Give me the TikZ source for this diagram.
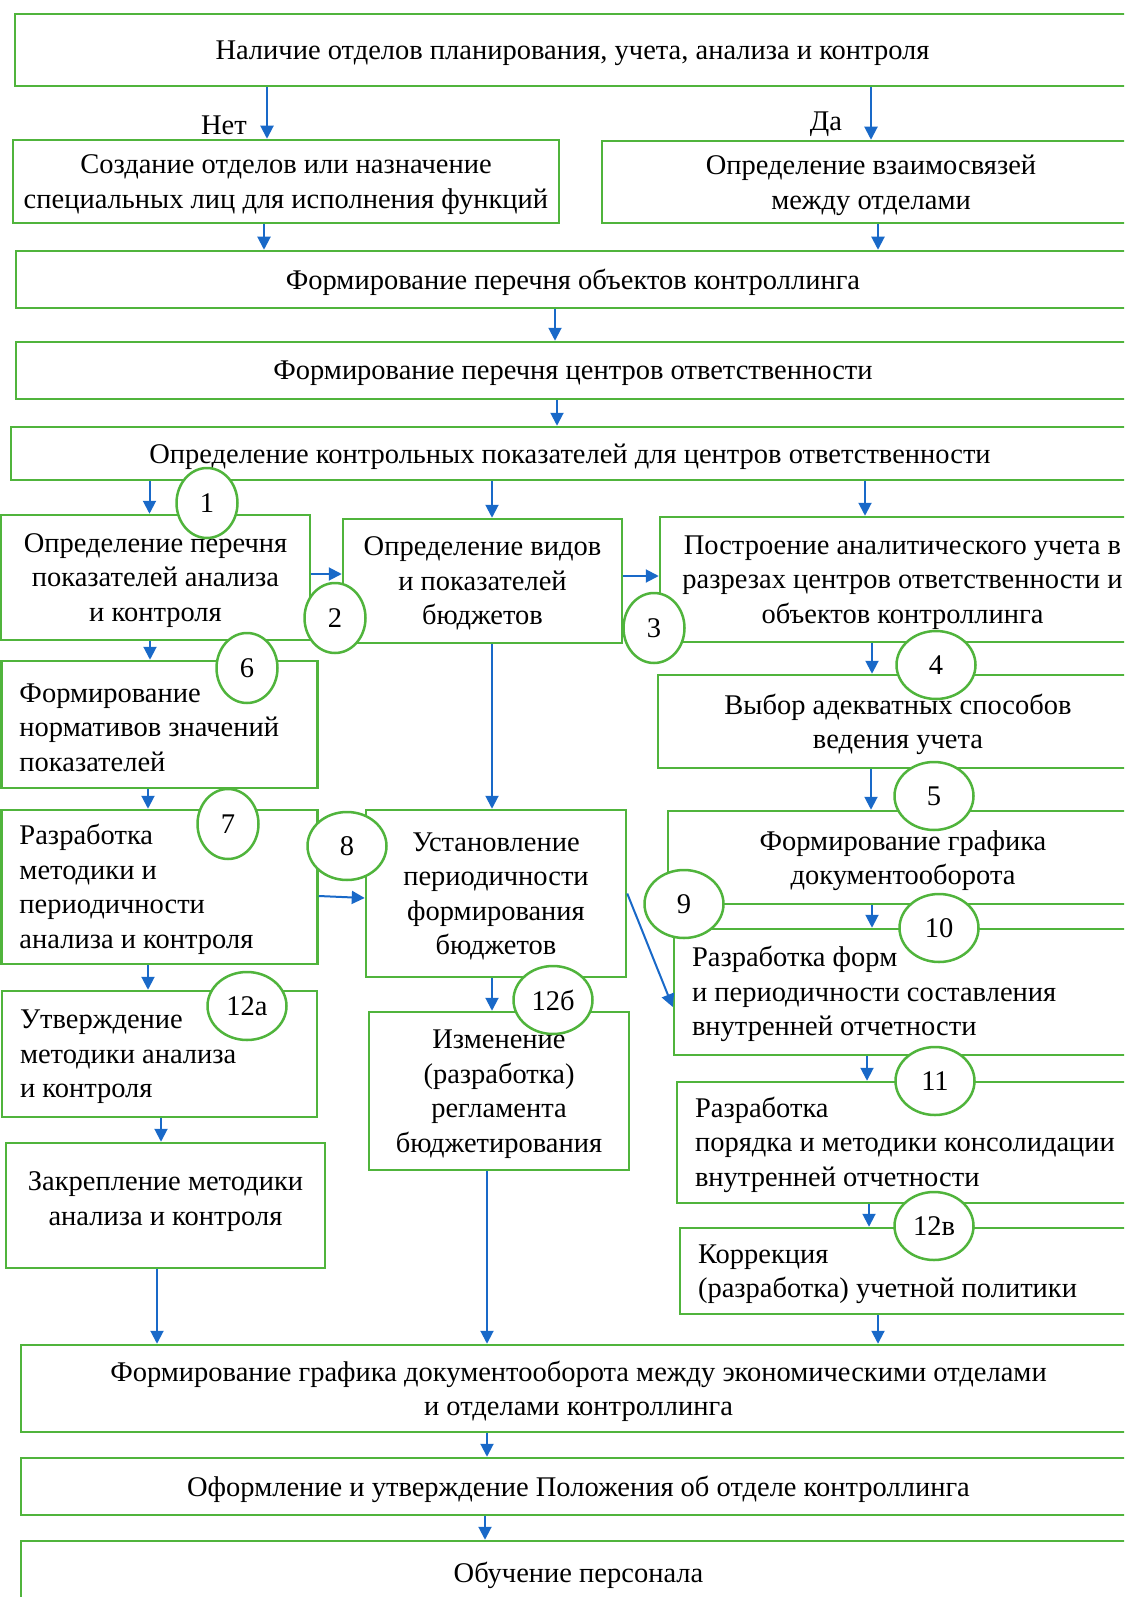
\documentclass[tikz,border=0pt]{standalone}
\usepackage{fontspec}
\setmainfont{Liberation Serif}
\usetikzlibrary{arrows.meta,shapes.geometric}
\definecolor{boxgreen}{RGB}{80,180,60}
\definecolor{arrblue}{RGB}{25,105,200}

\begin{document}
\begin{tikzpicture}[x=1pt, y=-1pt,
    every node/.style={font=\fontsize{28.5}{34.5}\selectfont},
    box/.style={draw=boxgreen, line width=2.5pt, inner xsep=2pt, inner ysep=2pt, align=center, text depth=-2pt},
    lbox/.style={box, align=flush left, inner xsep=18pt, text depth={}, text height=25pt},
    num/.style={ellipse, draw=boxgreen, line width=2.5pt, fill=white, minimum width=61pt, minimum height=70pt, inner sep=0pt},
    wnum/.style={num, minimum width=79pt, minimum height=68pt},
    arr/.style={draw=arrblue, line width=2pt, -{Triangle[length=13pt,width=13pt]}}]
    \useasboundingbox (0,0) rectangle (1124,1597);
    \clip (0,0) rectangle (1124,1597);

    \node[box, minimum width=1115pt, minimum height=72pt] (nalichie) at (572.5,50) {Наличие отделов планирования, учета, анализа и контроля};
    \node (net) at (224,125) {Нет};
    \node (da) at (826,124) {Да};
    \node[box, minimum width=546pt, minimum height=83pt] (sozd) at (286,181.5) {Создание отделов или назначение\\специальных лиц для исполнения функций};
    \node[box, minimum width=538pt, minimum height=82pt] (vzaim) at (871,182) {Определение взаимосвязей\\между отделами};
    \node[box, minimum width=1114pt, minimum height=57pt] (obj) at (573,279.5) {Формирование перечня объектов контроллинга};
    \node[box, minimum width=1114pt, minimum height=57pt] (centr) at (573,370.5) {Формирование перечня центров ответственности};
    \node[box, minimum width=1118pt, minimum height=53pt] (kontr) at (570,453.5) {Определение контрольных показателей для центров ответственности};

    \node[box, minimum width=309pt, minimum height=125pt] (perech) at (155.5,577.5) {Определение перечня\\показателей анализа\\и контроля};
    \node[box, minimum width=279pt, minimum height=124pt] (vidy) at (482.5,581) {Определение видов\\и показателей\\бюджетов};
    \node[box, minimum width=485pt, minimum height=125pt] (postr) at (902.5,579.5) {Построение аналитического учета в\\разрезах центров ответственности и\\объектов контроллинга};
    \node[lbox, text width=280pt, minimum width=316pt, minimum height=127pt] (norm) at (159.5,724.5) {Формирование\\нормативов значений\\показателей};
    \node[box, minimum width=480pt, minimum height=93pt] (vybor) at (898,721.5) {Выбор адекватных способов\\ведения учета};
    \node[lbox, text width=280pt, minimum width=316pt, minimum height=154pt] (metod) at (159.5,887) {Разработка\\методики и\\периодичности\\анализа и контроля};
    \node[box, minimum width=260pt, minimum height=167pt] (period) at (496,893.5) {Установление\\периодичности\\формирования\\бюджетов};
    \node[box, minimum width=470pt, minimum height=93pt] (grafik) at (903,857.5) {Формирование графика\\документооборота};
    \node[lbox, text width=279pt, minimum width=315pt, minimum height=126pt] (utv) at (159.5,1054) {Утверждение\\методики анализа\\и контроля};
    \node[box, minimum width=260pt, minimum height=158pt] (izmen) at (499,1091) {Изменение\\(разработка)\\регламента\\бюджетирования};
    \node[lbox, text width=430pt, minimum width=466pt, minimum height=126pt] (forma) at (907,992) {Разработка форм\\и периодичности составления\\внутренней отчетности};
    \node[box, minimum width=319pt, minimum height=125pt, text depth=14pt] (zakr) at (165.5,1205.5) {Закрепление методики\\анализа и контроля};
    \node[lbox, text width=427pt, minimum width=463pt, minimum height=121pt] (konsol) at (908.5,1142.5) {Разработка\\\mbox{порядка и методики консолидации}\\внутренней отчетности};
    \node[lbox, text width=424pt, minimum width=460pt, minimum height=86pt] (korr) at (910,1271) {Коррекция\\(разработка) учетной политики};

    \node[box, minimum width=1115pt, minimum height=87pt] (docflow) at (578.5,1388.5) {Формирование графика документооборота между экономическими отделами\\и отделами контроллинга};
    \node[box, minimum width=1115pt, minimum height=57pt] (polozh) at (578.5,1486.5) {Оформление и утверждение Положения об отделе контроллинга};
    \node[box, minimum width=1115pt, minimum height=62pt] (obuch) at (578.5,1572) {Обучение персонала};

    \draw[arr] ([xshift=-19pt]sozd.north |- nalichie.south) -- ([xshift=-19pt]sozd.north);
    \draw[arr] (vzaim.north |- nalichie.south) -- (vzaim.north);
    \draw[arr] ([xshift=-22pt]sozd.south) -- ([xshift=-22pt]sozd.south |- obj.north);
    \draw[arr] ([xshift=7pt]vzaim.south) -- ([xshift=7pt]vzaim.south |- obj.north);
    \draw[arr] ([xshift=-18pt]obj.south) -- ([xshift=-18pt]obj.south |- centr.north);
    \draw[arr] ([xshift=-16pt]centr.south) -- ([xshift=-16pt]centr.south |- kontr.north);
    \draw[arr] ([xshift=-6pt]perech.north |- kontr.south) -- ([xshift=-6pt]perech.north);
    \draw[arr] ([xshift=9.5pt]vidy.north |- kontr.south) -- ([xshift=9.5pt]vidy.north);
    \draw[arr] ([xshift=-37.5pt]postr.north |- kontr.south) -- ([xshift=-37.5pt]postr.north);
    \draw[arr] ([yshift=7pt]vidy.west -| perech.east) -- ([yshift=7pt]vidy.west);
    \draw[arr] ([yshift=3.5pt]postr.west -| vidy.east) -- ([yshift=3.5pt]postr.west);
    \draw[arr] ([xshift=-9.5pt]norm.north |- perech.south) -- ([xshift=-9.5pt]norm.north);
    \draw[arr] ([xshift=-26pt]vybor.north |- postr.south) -- ([xshift=-26pt]vybor.north);
    \draw[arr] ([xshift=-11.5pt]metod.north |- norm.south) -- ([xshift=-11.5pt]metod.north);
    \draw[arr] ([xshift=-32pt]grafik.north |- vybor.south) -- ([xshift=-32pt]grafik.north);
    \draw[arr] ([xshift=-4pt]period.north |- vidy.south) -- ([xshift=-4pt]period.north);
    \draw[arr] ([yshift=-9pt]metod.east) -- ([yshift=-4.5pt]period.west);
    \draw[arr] (period.east) -- ([yshift=-15pt]forma.west);
    \draw[arr] ([xshift=-35pt]forma.north |- grafik.south) -- ([xshift=-35pt]forma.north);
    \draw[arr] ([xshift=-11.5pt]utv.north |- metod.south) -- ([xshift=-11.5pt]utv.north);
    \draw[arr] ([xshift=-7pt]izmen.north |- period.south) -- ([xshift=-7pt]izmen.north);
    \draw[arr] ([xshift=-41.5pt]konsol.north |- forma.south) -- ([xshift=-41.5pt]konsol.north);
    \draw[arr] ([xshift=-4.5pt]zakr.north |- utv.south) -- ([xshift=-4.5pt]zakr.north);
    \draw[arr] ([xshift=-41pt]korr.north |- konsol.south) -- ([xshift=-41pt]korr.north);
    \draw[arr] ([xshift=-8.5pt]zakr.south) -- ([xshift=-8.5pt]zakr.south |- docflow.north);
    \draw[arr] ([xshift=-12pt]izmen.south) -- ([xshift=-12pt]izmen.south |- docflow.north);
    \draw[arr] ([xshift=-32pt]korr.south) -- ([xshift=-32pt]korr.south |- docflow.north);
    \draw[arr] ([xshift=-91.5pt]polozh.north |- docflow.south) -- ([xshift=-91.5pt]polozh.north);
    \draw[arr] ([xshift=-93.5pt]obuch.north |- polozh.south) -- ([xshift=-93.5pt]obuch.north);

    \node[num] (c1) at (207,503) {1};
    \node[num] (c2) at (335,618) {2};
    \node[num] (c3) at (654,628) {3};
    \node[wnum] (c4) at (936,665) {4};
    \node[wnum] (c5) at (934,796) {5};
    \node[num] (c6) at (247,668) {6};
    \node[num] (c7) at (228,824) {7};
    \node[wnum] (c8) at (347,846) {8};
    \node[wnum] (c9) at (684,904) {9};
    \node[wnum] (c10) at (939,928) {10};
    \node[wnum] (c11) at (935,1081) {11};
    \node[wnum] (c12a) at (247,1006) {12а};
    \node[wnum] (c12b) at (553,1000) {12б};
    \node[wnum] (c12v) at (934,1226) {12в};
\end{tikzpicture}
\end{document}
